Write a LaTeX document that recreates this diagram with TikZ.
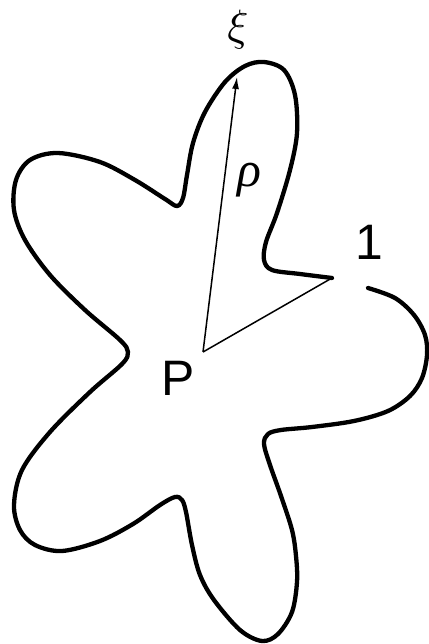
\documentclass[tikz,border=0pt]{standalone}
\usepackage{fontspec}
\setmainfont{Liberation Sans}
\newfontfamily\grkfont{Liberation Serif}
\usetikzlibrary{arrows.meta}
\tikzset{
  outline/.style={line width=4.3bp, line cap=round, line join=round},
  ray/.style={line width=1.5bp},
  lab/.style={inner sep=0pt, font=\fontsize{50}{60}\selectfont},
  glab/.style={inner sep=0pt, font=\grkfont\itshape\fontsize{50}{60}\selectfont},
  mlab/.style={inner sep=0pt, scale=4.4}
}
\begin{document}
\begin{tikzpicture}[x=1bp,y=-1bp]
\useasboundingbox (0,0) rectangle (428,644);
% outline
\draw[outline] plot[smooth, tension=0.55] coordinates {
 (368,288) (395,298) (414,315) (425,335) (427,355) (422,378) (410,396)
 (388,411) (354,421) (312,427) (281,430) (268,434) (264,444) (270,465)
 (281,496) (292,530) (296,556) (297,582) (292,612) (278,634) (262,641)
 (240,630) (214,600) (200,575) (192,545) (186,512) (182,500) (175,497)
 (160,505) (133,524) (100,541) (62,551) (35,545) (20,530) (14,505)
 (22,470) (50,432) (90,392) (122,364) (128,352) (120,340) (85,310)
 (50,275) (25,240) (14,210) (16,180) (30,160) (58,153) (100,162)
 (135,180) (165,199) (177,206) (183,198) (187,175) (193,143) (205,112)
 (225,82) (245,66) (264,62) (284,70) (295,95) (297,133) (290,170)
 (277,213) (266,242) (264,260) (272,270) (300,274) (332,278)
};
\coordinate (P) at (203,352);
\coordinate (xi) at (237,77);
\coordinate (one) at (332,278);
\draw[ray, -{Latex[length=12bp,width=7bp]}] (P) -- (xi);
\draw[ray] (P) -- (one);
\node[lab] (Plab) at (178,378) {P};
\node[lab] (onelab) at (369,242) {1};
\node[mlab] (xilab) at (238,30) {$\xi$};
\node[glab] (rholab) at (249,180) {ρ};
\end{tikzpicture}
\end{document}
